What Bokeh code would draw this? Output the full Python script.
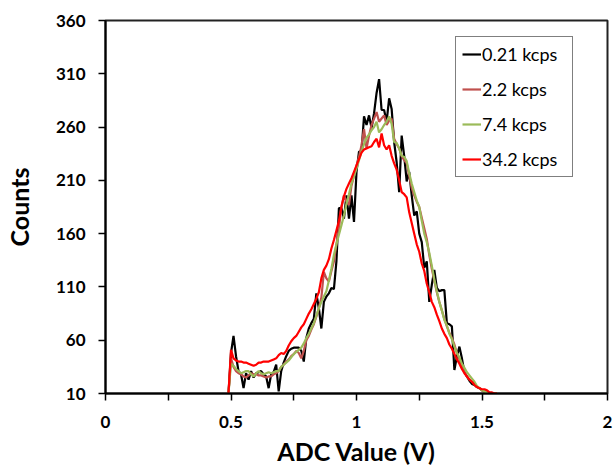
from bokeh.plotting import figure
from bokeh.models import FixedTicker, Legend, LegendItem, Range1d
from bokeh.embed import file_html
from bokeh.resources import INLINE

# ADC bin centres (V)
adc = [0.49, 0.50, 0.51, 0.52, 0.53, 0.54, 0.55, 0.56, 0.57, 0.58, 0.59,
       0.60, 0.61, 0.62, 0.63, 0.64, 0.65, 0.66, 0.67, 0.68, 0.69,
       0.70, 0.71, 0.72, 0.73, 0.74, 0.75, 0.76, 0.77, 0.78, 0.79,
       0.80, 0.81, 0.82, 0.83, 0.84, 0.85, 0.86, 0.87, 0.88, 0.89,
       0.90, 0.91, 0.92, 0.93, 0.94, 0.95, 0.96, 0.97, 0.98, 0.99,
       1.00, 1.01, 1.02, 1.03, 1.04, 1.05, 1.06, 1.07, 1.08, 1.09,
       1.10, 1.11, 1.12, 1.13, 1.14, 1.15, 1.16, 1.17, 1.18, 1.19,
       1.20, 1.21, 1.22, 1.23, 1.24, 1.25, 1.26, 1.27, 1.28, 1.29,
       1.30, 1.31, 1.32, 1.33, 1.34, 1.35, 1.36, 1.37, 1.38, 1.39,
       1.40, 1.41, 1.42, 1.43, 1.44, 1.45, 1.46, 1.47, 1.48, 1.49,
       1.50, 1.51, 1.52, 1.53, 1.54, 1.55, 1.56]

counts_021 = [10, 48, 64, 45, 31, 28, 15, 29, 23, 31, 25,
              29, 30, 31, 28, 26, 15, 28, 30, 37, 12,
              31, 39, 45, 50, 52, 53, 53, 53, 50, 40,
              62, 71, 76, 80, 104, 90, 71, 96, 101, 104,
              109, 108, 134, 184, 184, 174, 196, 174, 196, 171,
              218, 237, 237, 270, 262, 271, 259, 273, 292, 305,
              276, 276, 265, 287, 277, 246, 227, 199, 252, 233,
              209, 218, 196, 177, 181, 160, 152, 128, 134, 96,
              112, 126, 109, 106, 107, 107, 76, 75, 73, 32,
              45, 54, 43, 30, 26, 22, 19, 18, 16, 15,
              13, 12, 11, 10.5, 10, 10, 10]

counts_22 = [10, 43, 35, 31, 29, 28, 26, 25, 27, 29, 28,
             28, 27, 27, 26, 25, 26, 26, 28, 29, 31,
             35, 37, 40, 42, 45, 47, 50, 48, 43, 50,
             60, 64, 70, 75, 82, 90, 100, 124, 118, 115,
             125, 134, 150, 165, 185, 196, 190, 187, 205, 214,
             224, 232, 243, 258, 240, 252, 262, 268, 274, 265,
             268, 271, 262, 266, 268, 249, 244, 240, 233, 229,
             226, 214, 203, 196, 190, 185, 175, 165, 155, 140,
             127, 116, 105, 96, 88, 80, 73, 67, 62, 56,
             48, 42, 36, 30, 26, 23, 21, 19, 16, 15,
             13, 12, 11, 10, 10, 10, 10]

counts_74 = [10, 38, 36, 33, 31, 29, 30, 31, 31, 28, 26,
             29, 31, 29, 28, 29, 30, 29, 30, 31, 31,
             35, 37, 39, 41, 44, 47, 49, 51, 53, 57,
             62, 66, 71, 76, 83, 90, 96, 101, 106, 116,
             127, 140, 150, 159, 168, 177, 188, 197, 207, 214,
             221, 229, 237, 244, 250, 253, 257, 260, 265, 255,
             258, 262, 265, 270, 263, 246, 245, 240, 233, 232,
             228, 217, 207, 199, 191, 185, 172, 160, 152, 142,
             130, 117, 106, 96, 88, 79, 74, 66, 61, 54,
             48, 44, 38, 34, 30, 27, 24, 21, 17, 15,
             13, 12, 11, 10, 10, 10, 10]

counts_342 = [10, 51, 43, 41, 40, 40, 39, 39, 38, 37, 36,
              37, 39, 39, 40, 40, 40, 41, 42, 43, 46,
              48, 47, 50, 55, 59, 62, 64, 68, 72, 75,
              80, 85, 89, 94, 99, 105, 118, 126, 130, 136,
              146, 154, 163, 172, 185, 195, 202, 207, 212, 218,
              224, 230, 236, 239, 240, 241, 242, 246, 249, 241,
              254, 243, 239, 243, 233, 226, 220, 210, 199, 197,
              194, 180, 170, 160, 150, 143, 132, 125, 113, 105,
              96, 91, 84, 78, 71, 66, 62, 56, 52, 47,
              42, 38, 33, 29, 26, 23, 21, 18, 16, 15,
              14, 14, 13, 11, 11, 10, 10]

series_labels = ["0.21 kcps", "2.2 kcps", "7.4 kcps", "34.2 kcps"]
series_colors = ["#000000", "#C0504D", "#9BBB59", "#FF0000"]

x_ticks = [0, 0.5, 1, 1.5, 2]
x_minor_ticks = [0.25, 0.75, 1.25, 1.75]
x_tick_labels = ["0", "0.5", "1", "1.5", "2"]
y_ticks = [10, 60, 110, 160, 210, 260, 310, 360]

FONT = "Lato"

p = figure(width=615, height=468, output_backend="svg", toolbar_location=None,
           x_range=Range1d(0, 2), y_range=Range1d(10, 360),
           min_border_left=105, min_border_right=8, min_border_top=20,
           min_border_bottom=74)
p.xgrid.visible = False
p.ygrid.visible = False
p.outline_line_color = "#222222"
p.outline_line_width = 2
p.background_fill_color = "white"
p.border_fill_color = "white"

items = []
for ys, lab, col in zip([counts_021, counts_22, counts_74, counts_342],
                        series_labels, series_colors):
    r = p.line(adc, ys, line_color=col, line_width=2.2)
    items.append(LegendItem(label=lab, renderers=[r]))

# axes
p.xaxis.ticker = FixedTicker(ticks=x_ticks, minor_ticks=x_minor_ticks)
p.xaxis.major_label_overrides = {t: l for t, l in zip(x_ticks, x_tick_labels)}
p.yaxis.ticker = FixedTicker(ticks=y_ticks)
for ax in (p.xaxis[0], p.yaxis[0]):
    ax.axis_line_color = "black"
    ax.axis_line_width = 2
    ax.major_tick_line_color = "black"
    ax.major_tick_line_width = 1.5
    ax.major_tick_out = 7
    ax.major_tick_in = 0
    ax.minor_tick_line_color = "black"
    ax.minor_tick_line_width = 1.5
    ax.minor_tick_out = 7
    ax.minor_tick_in = 0
    ax.major_label_text_font = FONT
    ax.major_label_text_font_style = "bold"
    ax.major_label_text_font_size = "17px"
    ax.major_label_text_color = "black"
    ax.axis_label_text_font = FONT
    ax.axis_label_text_font_style = "bold"
    ax.axis_label_text_font_size = "25px"
    ax.axis_label_text_color = "black"
p.yaxis.minor_tick_line_color = None
p.xaxis.major_label_standoff = 15
p.yaxis.major_label_standoff = 13
p.xaxis.axis_label = "ADC Value (V)"
p.yaxis.axis_label = "Counts"
p.xaxis.axis_label_standoff = 5
p.yaxis.axis_label_standoff = 19

legend = Legend(items=items, location=(350, 216))
legend.border_line_color = "black"
legend.border_line_width = 1.2
legend.background_fill_color = "white"
legend.label_text_font = FONT
legend.label_text_font_size = "18px"
legend.label_text_color = "black"
legend.glyph_width = 19
legend.glyph_height = 20
legend.label_height = 20
legend.label_width = 84
legend.label_standoff = 1
legend.spacing = 13
legend.padding = 6
legend.margin = 0
p.add_layout(legend, "center")

open("out.html", "w").write(file_html(p, INLINE))
